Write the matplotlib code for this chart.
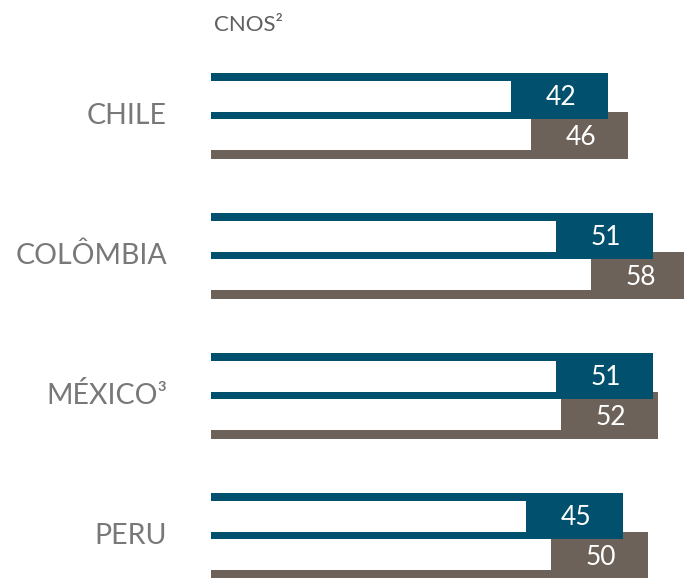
import matplotlib
matplotlib.use("Agg")
import matplotlib.pyplot as plt

countries = ["CHILE", "COLÔMBIA", "MÉXICO³", "PERU"]
blue_vals = [42, 51, 51, 45]
brown_vals = [46, 58, 52, 50]
header = "CNOS²"

blue = "#00506e"
brown = "#6d6259"
grey = "#787878"

plt.rcParams['font.family'] = ['Lato', 'DejaVu Sans']

fig = plt.figure(figsize=(6.84, 5.78), dpi=100)
ax = fig.add_axes([0, 0, 1, 1])
ax.set_xlim(-79.5, 57.3)
ax.set_ylim(578, 0)
ax.axis("off")

bar_left = -37.3
box_w = 19.4
step = 140

for i, name in enumerate(countries):
    y0 = 73.3 + step * i
    b = blue_vals[i]
    r = brown_vals[i]
    # brown bar underneath
    ax.barh(y0 + 62.0, r - bar_left, left=bar_left, height=47.4, color=brown, align="center")
    ax.barh(y0 + 57.5, r - box_w - bar_left, left=bar_left, height=38.5, color="white", align="center")
    # blue bar on top
    ax.barh(y0 + 23.0, b - bar_left, left=bar_left, height=46, color=blue, align="center")
    ax.barh(y0 + 22.9, b - box_w - bar_left, left=bar_left, height=31, color="white", align="center")
    ax.text(b - box_w / 2 + 0.4, y0 + 24.5, str(b), color="white", fontsize=19,
            ha="center", va="center")
    ax.text(r - box_w / 2 + 0.4, y0 + 64.5, str(r), color="white", fontsize=19,
            ha="center", va="center")
    ax.text(bar_left - 8.8, y0 + 42.5, name, color=grey, fontsize=20.5,
            ha="right", va="center")

ax.text(bar_left + 0.6, 25, header, color="#606060", fontsize=16,
        ha="left", va="center")

fig.savefig("out.png", dpi=100)
